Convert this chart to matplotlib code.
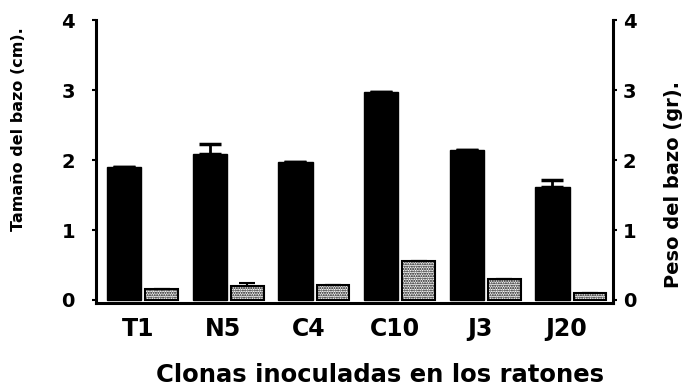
import matplotlib
matplotlib.use('Agg')
import matplotlib.pyplot as plt
import numpy as np

clonas = ['T1', 'N5', 'C4', 'C10', 'J3', 'J20']
tamano = [1.90, 2.08, 1.97, 2.97, 2.14, 1.61]
tamano_err = [0, 0.15, 0, 0, 0, 0.10]
peso = [0.16, 0.20, 0.21, 0.56, 0.30, 0.10]
peso_err = [0, 0.04, 0, 0, 0, 0]

plt.rcParams['font.family'] = ['DejaVu Sans']
plt.rcParams['font.weight'] = 'bold'
plt.rcParams['hatch.linewidth'] = 1.0

fig = plt.figure(figsize=(6.89, 3.87), dpi=100)
ax = fig.add_axes([0.139, 0.2176, 0.751, 0.7304])

x = np.arange(len(clonas))
zeros = np.zeros(len(clonas))
ax.bar(x - 0.21, tamano, width=0.40, color='black', edgecolor='black')
ax.errorbar(x - 0.21, tamano, yerr=[zeros, tamano_err], fmt='none',
            ecolor='black', elinewidth=2, capsize=8, capthick=2.5)
ax.bar(x + 0.23, peso, width=0.38, color='white', edgecolor='black',
       linewidth=1.5, hatch='.......')
ax.errorbar(x + 0.23, peso, yerr=[zeros, peso_err], fmt='none',
            ecolor='black', elinewidth=1.5, capsize=6, capthick=1.5)

ax.set_xlim(-0.54, 5.5)
ax.set_ylim(-0.04, 4)
ax.set_xticks(x - 0.05)
ax.set_xticklabels(clonas, fontsize=17, fontweight='bold')
ax.tick_params(axis='x', length=0, pad=10)
ax.set_yticks([0, 1, 2, 3, 4])
ax.tick_params(axis='y', length=3, width=1.5, pad=12, labelsize=14)

for side in ['left', 'bottom']:
    ax.spines[side].set_linewidth(2.2)
ax.spines['top'].set_visible(False)
ax.spines['right'].set_visible(False)

ax2 = ax.twinx()
ax2.set_ylim(-0.04, 4)
ax2.set_yticks([0, 1, 2, 3, 4])
ax2.tick_params(axis='y', length=3, width=1.5, pad=4, labelsize=14)
ax2.spines['right'].set_linewidth(2.2)
for side in ['left', 'top', 'bottom']:
    ax2.spines[side].set_visible(False)
for lab in ax.get_yticklabels() + ax2.get_yticklabels():
    lab.set_fontweight('bold')

fig.text(0.027, 0.667, 'Tamaño del bazo (cm).', rotation=90, fontsize=11.5,
         fontweight='bold', ha='center', va='center')
fig.text(0.977, 0.522, 'Peso del bazo (gr).', rotation=90, fontsize=14,
         fontweight='bold', ha='center', va='center')
fig.text(0.552, 0.03, 'Clonas inoculadas en los ratones', fontsize=17.5,
         fontweight='bold', ha='center', va='center')

fig.savefig('out.png', dpi=100)
